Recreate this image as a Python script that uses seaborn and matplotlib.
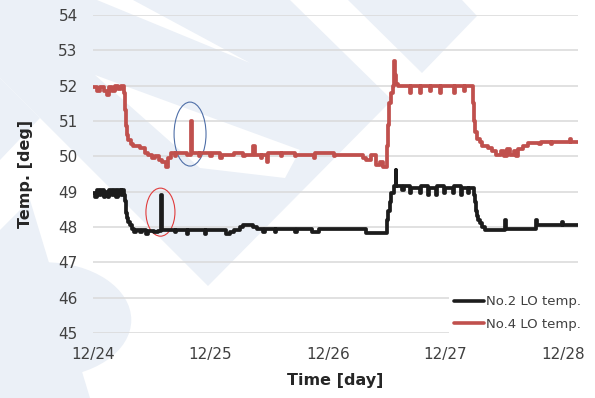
"""
plot.py
-------
LO temperature trend of No.2 and No.4 engines, 12/24 - 12/28.
"""

import matplotlib
matplotlib.use("Agg")
import matplotlib.pyplot as plt
from matplotlib.patches import Ellipse, Polygon, Circle
import pandas as pd
import seaborn as sns

# ── Data (time in days from 12/24 00:00, temperature in deg) ─────────
# values hold until the next time stamp (logger steps)
no2_time = [0.0, 0.02, 0.035, 0.05, 0.07, 0.09, 0.105, 0.125, 0.14, 0.16,
            0.18, 0.20, 0.215, 0.235, 0.25, 0.265, 0.275, 0.28, 0.285, 0.292,
            0.30, 0.315, 0.33, 0.35, 0.37, 0.40, 0.42, 0.45, 0.47, 0.52,
            0.55, 0.583, 0.59, 0.70, 0.71, 0.80, 0.81, 0.95, 0.96, 1.13,
            1.17, 1.20, 1.25, 1.28, 1.36, 1.40, 1.45, 1.46, 1.55, 1.56,
            1.72, 1.74, 1.86, 1.92, 2.32, 2.50, 2.505, 2.515, 2.525, 2.54,
            2.56, 2.575, 2.583, 2.63, 2.65, 2.70, 2.71, 2.78, 2.79, 2.85,
            2.86, 2.92, 2.93, 2.99, 3.0, 3.06, 3.07, 3.13, 3.14, 3.19,
            3.20, 3.245, 3.252, 3.26, 3.268, 3.28, 3.295, 3.315, 3.34, 3.51,
            3.518, 3.77, 3.778, 3.995, 4.003, 4.128]
no2_temp = [48.95, 48.85, 49.05, 48.9, 49.05, 48.85, 49.0, 48.85, 49.05, 48.9,
            49.05, 48.85, 49.05, 48.9, 49.05, 48.9, 48.75, 48.55, 48.4, 48.25,
            48.15, 48.05, 47.95, 47.85, 47.92, 47.85, 47.92, 47.8, 47.9, 47.85,
            47.9, 48.9, 47.92, 47.85, 47.92, 47.8, 47.92, 47.8, 47.92, 47.8,
            47.85, 47.92, 48.0, 48.05, 48.0, 47.95, 47.85, 47.95, 47.85, 47.95,
            47.85, 47.95, 47.85, 47.95, 47.83, 47.95, 48.2, 48.45, 48.7, 48.95,
            49.15, 49.6, 49.15, 49.05, 49.15, 48.95, 49.1, 48.95, 49.15, 48.9,
            49.1, 48.9, 49.15, 48.95, 49.1, 48.95, 49.15, 48.9, 49.1, 48.95,
            49.1, 48.9, 48.7, 48.45, 48.3, 48.2, 48.1, 48.0, 47.92, 48.2,
            47.95, 48.2, 48.05, 48.15, 48.05, 48.05]

no4_time = [0.0, 0.03, 0.06, 0.09, 0.12, 0.135, 0.16, 0.185, 0.21, 0.235,
            0.262, 0.272, 0.28, 0.29, 0.30, 0.32, 0.34, 0.40, 0.44, 0.47,
            0.50, 0.53, 0.56, 0.59, 0.62, 0.635, 0.66, 0.70, 0.71, 0.80,
            0.834, 0.842, 0.90, 0.91, 1.0, 1.01, 1.08, 1.095, 1.2, 1.28,
            1.29, 1.36, 1.375, 1.43, 1.44, 1.48, 1.49, 1.60, 1.61, 1.72,
            1.73, 1.88, 1.89, 2.05, 2.06, 2.30, 2.32, 2.37, 2.41, 2.44,
            2.47, 2.50, 2.51, 2.52, 2.535, 2.55, 2.562, 2.57, 2.58, 2.60,
            2.70, 2.71, 2.78, 2.79, 2.87, 2.88, 2.95, 2.96, 3.07, 3.08,
            3.16, 3.17, 3.235, 3.245, 3.255, 3.27, 3.29, 3.31, 3.36, 3.40,
            3.43, 3.47, 3.50, 3.52, 3.55, 3.58, 3.60, 3.62, 3.66, 3.70,
            3.80, 3.81, 3.90, 3.91, 4.06, 4.07, 4.128]
no4_temp = [51.95, 51.85, 51.95, 51.85, 51.75, 51.95, 51.85, 52.0, 51.9, 52.0,
            51.8, 51.3, 50.85, 50.6, 50.45, 50.35, 50.3, 50.25, 50.1, 50.05,
            49.95, 50.0, 49.9, 49.85, 49.7, 49.95, 50.1, 50.0, 50.1, 50.05,
            51.0, 50.1, 50.0, 50.1, 50.0, 50.1, 49.95, 50.05, 50.1, 50.0,
            50.05, 50.3, 50.05, 49.95, 50.05, 49.85, 50.1, 50.0, 50.1, 50.0,
            50.05, 49.95, 50.1, 50.0, 50.05, 49.95, 49.9, 50.05, 49.75, 49.85,
            49.7, 50.3, 50.9, 51.5, 51.8, 52.0, 52.7, 52.3, 52.05, 52.0,
            51.8, 52.0, 51.8, 52.0, 51.85, 52.0, 51.8, 52.0, 51.8, 52.0,
            51.85, 52.0, 51.5, 51.0, 50.7, 50.5, 50.4, 50.3, 50.25, 50.15,
            50.05, 50.15, 50.0, 50.2, 50.05, 50.15, 50.0, 50.2, 50.3, 50.38,
            50.35, 50.4, 50.35, 50.4, 50.5, 50.4, 50.4]

day_ticks = [0, 1, 2, 3, 4]
day_labels = ["12/24", "12/25", "12/26", "12/27", "12/28"]
temp_ticks = list(range(45, 55))

# spikes marked by hand on the original chart: (x, y, width, height)
mark_no4 = (0.826, 50.63, 0.272, 1.81)
mark_no2 = (0.574, 48.42, 0.247, 1.36)

W, H = 595, 398
WM = "#ebf0f7"


def px(points):
    """Pixel coords (y down) -> figure fraction."""
    return [(x / W, 1 - y / H) for x, y in points]


def add_watermark(fig):
    """Faint background logo shapes."""
    shapes = [
        ([(0, 0), (290, 0), (392, 100), (208, 286), (40, 118), (0, 78)], WM),
        ([(0, 78), (40, 118), (0, 160)], WM),
        ([(348, 0), (462, 0), (477, 16), (422, 73)], WM),
        ([(97, 0), (133, 0), (250, 63)], "white"),
        ([(95, 75), (300, 150), (285, 178), (200, 168)], "white"),
        ([(0, 230), (30, 200), (90, 398), (0, 398)], WM),
    ]
    for pts, col in shapes:
        fig.patches.append(Polygon(px(pts), closed=True, transform=fig.transFigure,
                                   facecolor=col, edgecolor="none", zorder=-2))
    fig.patches.append(Circle((45 / W, 1 - 320 / H), 0.145, transform=fig.transFigure,
                              facecolor=WM, edgecolor="none", zorder=-2))


if __name__ == "__main__":
    sns.set_theme(style="white")
    plt.rcParams["font.family"] = ["DejaVu Sans"]

    df = pd.concat([
        pd.DataFrame({"day": no2_time, "temp": no2_temp, "series": "No.2 LO temp."}),
        pd.DataFrame({"day": no4_time, "temp": no4_temp, "series": "No.4 LO temp."}),
    ])

    fig = plt.figure(figsize=(5.95, 3.98), dpi=100)
    fig.patch.set_facecolor("white")
    add_watermark(fig)
    ax = fig.add_axes([93 / W, 1 - 333 / H, 485 / W, 318 / H])
    ax.set_facecolor("none")

    sns.lineplot(
        data=df, x="day", y="temp", hue="series",
        palette={"No.2 LO temp.": "#1c1c1c", "No.4 LO temp.": "#c0504d"},
        estimator=None, sort=False, linewidth=2.7, drawstyle="steps-post", ax=ax,
    )

    for (cx, cy, w, h), col in [(mark_no4, "#4f6fa8"), (mark_no2, "#e03c3c")]:
        ax.add_patch(Ellipse((cx, cy), w, h, fill=False, edgecolor=col, linewidth=0.8))

    ax.set_xlim(0, 4.128)
    ax.set_ylim(45, 54)
    ax.set_xticks(day_ticks, day_labels)
    ax.set_yticks(temp_ticks)
    ax.grid(axis="y", color="#d9d9d9", linewidth=1.1)
    ax.set_axisbelow(True)
    for s in ax.spines.values():
        s.set_visible(False)
    ax.tick_params(axis="both", length=0, labelsize=11, labelcolor="#404040")
    ax.tick_params(axis="x", pad=10)
    ax.tick_params(axis="y", pad=11)

    ax.set_xlabel("Time [day]", fontsize=11.5, fontweight="bold", color="#262626", labelpad=8)
    ax.set_ylabel("Temp. [deg]", fontsize=11.5, fontweight="bold", color="#262626", labelpad=18)

    leg = ax.legend(
        title=None, loc="lower left", bbox_to_anchor=(0.72, -0.03),
        frameon=True, facecolor="white", edgecolor="none", framealpha=1,
        fontsize=9.5, handlelength=2.3, handletextpad=0.1, labelspacing=0.7,
        borderpad=0.4, fancybox=False,
    )
    for t in leg.get_texts():
        t.set_color("#404040")
    for ln in leg.get_lines():
        ln.set_linewidth(2.6)

    plt.savefig("out.png", dpi=100)
